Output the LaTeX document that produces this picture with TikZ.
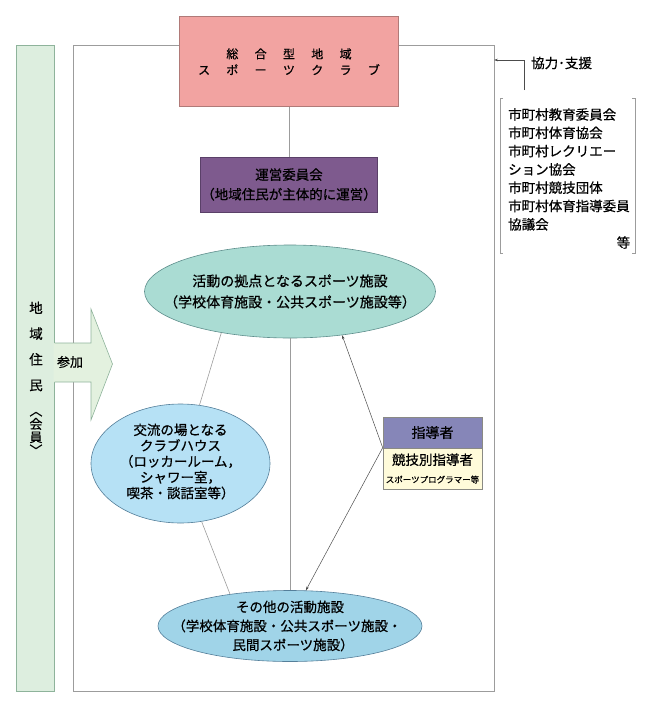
\documentclass[tikz,border=0pt]{standalone}
\usepackage{fontspec}
\setmainfont{Noto Sans CJK JP}[FakeBold=0.6]
\usetikzlibrary{shapes.geometric,arrows.meta,positioning}

\definecolor{framegray}{HTML}{9C9C9C}
\definecolor{clubpink}{HTML}{F2A3A1}
\definecolor{clubline}{HTML}{B07A78}
\definecolor{mgmtpurple}{HTML}{7E5A8E}
\definecolor{mgmtline}{HTML}{5A4068}
\definecolor{basegreen}{HTML}{AADCD3}
\definecolor{baseline}{HTML}{5E8E8C}
\definecolor{houseblue}{HTML}{B6E1F5}
\definecolor{otherblue}{HTML}{A0D4E8}
\definecolor{blueline}{HTML}{557F9A}
\definecolor{ldrpurple}{HTML}{8686B8}
\definecolor{ldrcream}{HTML}{FFFBDA}
\definecolor{ldrline}{HTML}{8A8A84}
\definecolor{barfill}{HTML}{DDEEDF}
\definecolor{barline}{HTML}{8EB39B}
\definecolor{joinfill}{HTML}{E3F1DF}

\newcommand{\kgap}{\hspace{16.3pt}}
\newcommand{\lpar}{\kern-0.45em（}
\newcommand{\rpar}{）\kern-0.45em}

\begin{document}
\begin{tikzpicture}[x=1pt,y=-1pt,
    every node/.style={inner sep=0pt},
    box/.style={rectangle,draw,line width=0.6pt},
    spot/.style={ellipse,draw,line width=0.6pt},
    link/.style={draw=framegray,line width=0.6pt},
    guide/.style={draw=black!70,line width=0.5pt,-{Stealth[length=4pt,width=2.6pt]}}]
        \useasboundingbox (0,0) rectangle (650,710);

        % 外枠
        \draw[link] (73.5,45) rectangle (494,691);

        % クラブと運営委員会
        \node[box,fill=clubpink,draw=clubline,minimum width=219pt,minimum height=90pt,
              align=center,font=\fontsize{12}{16}\selectfont] (club) at (289,61.7)
              {総\kgap 合\kgap 型\kgap 地\kgap 域\\ス\kgap ポ\kgap ー\kgap ツ\kgap ク\kgap ラ\kgap ブ};
        \node[box,fill=mgmtpurple,draw=mgmtline,minimum width=177pt,minimum height=55pt,
              align=center,font=\fontsize{13.5}{19.7}\selectfont] (mgmt) at (289,184.5)
              {\raisebox{0pt}{運営委員会}\\\lpar 地域住民が主体的に運営\rpar};
        \draw[link] (club) -- (mgmt);

        % 施設
        \node[spot,fill=basegreen,draw=baseline,minimum width=291pt,minimum height=93pt] (base) at (290,291.5) {};
        \node[align=center,font=\fontsize{14}{21}\selectfont] (basetxt) at (290,291.5)
              {活動の拠点となるスポーツ施設\\\lpar 学校体育施設・公共スポーツ施設等\rpar};
        \node[spot,fill=houseblue,draw=blueline,minimum width=179pt,minimum height=119pt] (house) at (180.5,463.5) {};
        \node[align=center,font=\fontsize{13.5}{15.8}\selectfont] (housetxt) at (180.5,461.5)
              {交流の場となる\\クラブハウス\\（ロッカールーム，\\シャワー室，\\喫茶・談話室等）};
        \node[spot,fill=otherblue,draw=blueline,minimum width=264pt,minimum height=71pt] (other) at (290,626) {};
        \node[align=center,font=\fontsize{13.5}{19}\selectfont] (othertxt) at (290,626)
              {その他の活動施設\\\lpar 学校体育施設・公共スポーツ施設・\\民間スポーツ施設\rpar};

        % 施設をつなぐ線
        \draw[link] (base.211.6) -- (house.72.5);
        \draw[link] (house.290.7) -- (other.152.1);
        \draw[link] (base.south) -- (other.north);

        % 指導者
        \node[box,fill=ldrpurple,draw=ldrline,minimum width=99pt,minimum height=31pt,
              font=\fontsize{14}{16}\selectfont] (ldrhead) at (432.5,432.5) {指導者};
        \node[box,fill=ldrcream,draw=ldrline,minimum width=99pt,minimum height=41pt,
              align=center,font=\fontsize{13.5}{18}\selectfont] (ldrbody) at (432.5,468.5)
              {競技別指導者\\{\fontsize{8.5}{10}\selectfont スポーツプログラマー等}};
        \draw[guide] (ldrbody.north west) -- (base.320.9);
        \draw[guide] (ldrbody.north west) -- (other.66.3);

        % 地域住民と参加の矢印
        \node[box,fill=barfill,draw=barline,minimum width=38pt,minimum height=646pt] (bar) at (35.6,368) {};
        \fill[joinfill] (53.5,343) -- (91,343) -- (91,309) -- (112.5,364) -- (91,420) -- (91,382) -- (53.5,382) -- cycle;
        \draw[barline,line width=0.6pt] (54.5,343) -- (91,343) -- (91,309) -- (112.5,364) -- (91,420) -- (91,382) -- (54.5,382);
        \node[align=center,font=\fontsize{13.5}{25.7}\selectfont] (resid) at (36,346.5) {地\\域\\住\\民};
        \node[align=center,font=\fontsize{13}{13.2}\selectfont] (member) at (36,430.5)
              {\rotatebox[origin=c]{-90}{〈}\\会\\員\\\rotatebox[origin=c]{-90}{〉}};
        \node[font=\fontsize{13}{14}\selectfont] (join) at (70,362) {参加};

        % 協力・支援の団体
        \coordinate (frsup) at (494,60);
        \coordinate (orgtop) at (524,90);
        \draw[guide] (orgtop) |- (frsup);
        \node[anchor=west,font=\fontsize{13.5}{15}\selectfont] (support) at (531,63) {協力･支援};
        \node[anchor=north west,align=left,text width=122pt,font=\fontsize{13.5}{18.3}\selectfont] (orgs) at (508,108)
              {市町村教育委員会\\市町村体育協会\\市町村レクリエー\\ション協会\\市町村競技団体\\市町村体育指導委員\\協議会\\\hspace*{\fill}等\hspace*{9pt}};
        \draw[link] (503,98) -- (500,98) -- (500,253) -- (503,253);
        \draw[link] (632,98) -- (635,98) -- (635,253) -- (632,253);
    \end{tikzpicture}
\end{document}
